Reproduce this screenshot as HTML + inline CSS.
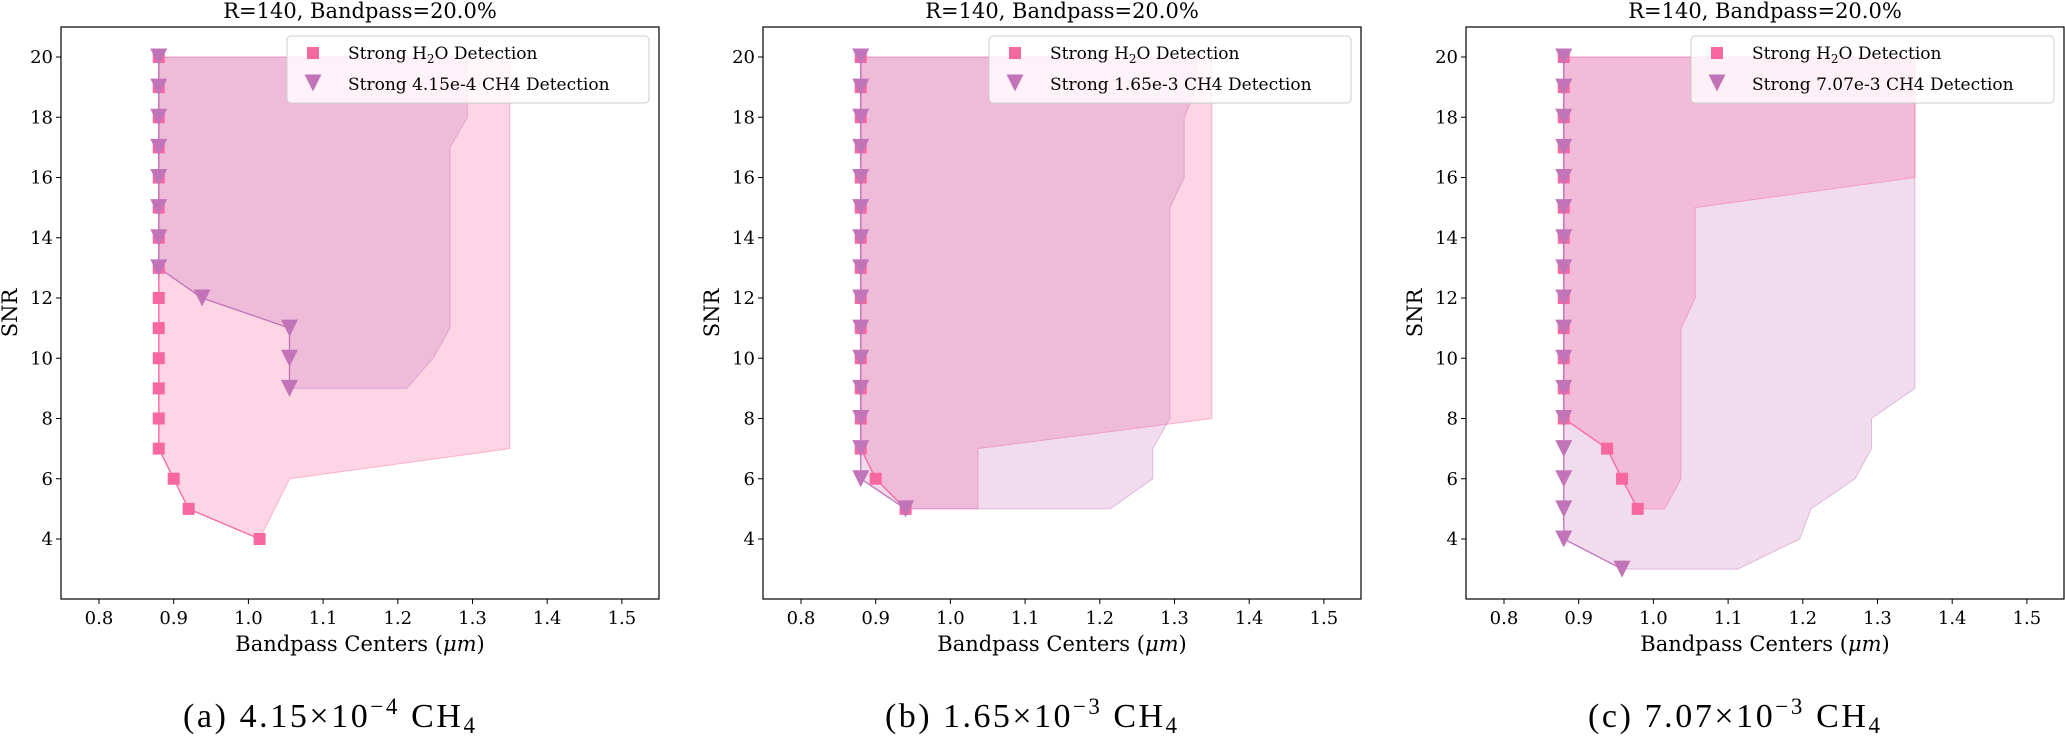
<!DOCTYPE html>
<html><head><meta charset="utf-8">
<style>
html,body{margin:0;padding:0;background:#fff;}
svg{display:block;}
.tk{font-family:"DejaVu Serif","Liberation Serif",serif;font-size:18px;fill:#000;}
.tt{font-family:"DejaVu Serif","Liberation Serif",serif;font-size:21px;fill:#000;}
.lg{font-family:"DejaVu Serif","Liberation Serif",serif;font-size:17px;fill:#000;}
.cap{font-family:"Liberation Serif","DejaVu Serif",serif;font-size:34px;fill:#000;}
</style></head>
<body>
<svg id="s" width="2065" height="738" viewBox="0 0 2065 738" xmlns="http://www.w3.org/2000/svg">
<rect width="2065" height="738" fill="#fff"/>

<!-- Panel 1 -->
<g transform="translate(61,0)">
<g id="d1"></g>
<rect x="0" y="27" width="598" height="572" fill="none" stroke="#000" stroke-width="1.2"/>
<g stroke="#000" stroke-width="1">
<path d="M38 599v5M112.7 599v5M187.4 599v5M262.1 599v5M336.8 599v5M411.5 599v5M486.2 599v5M560.9 599v5"/>
<path d="M0 57h-5M0 117.3h-5M0 177.5h-5M0 237.8h-5M0 298h-5M0 358.3h-5M0 418.5h-5M0 478.8h-5M0 539h-5"/>
</g>
<g class="tk" text-anchor="middle">
<text x="38" y="624">0.8</text><text x="112.7" y="624">0.9</text><text x="187.4" y="624">1.0</text><text x="262.1" y="624">1.1</text><text x="336.8" y="624">1.2</text><text x="411.5" y="624">1.3</text><text x="486.2" y="624">1.4</text><text x="560.9" y="624">1.5</text>
</g>
<g class="tk" text-anchor="end">
<text x="-8" y="63">20</text><text x="-8" y="123.3">18</text><text x="-8" y="183.5">16</text><text x="-8" y="243.8">14</text><text x="-8" y="304">12</text><text x="-8" y="364.3">10</text><text x="-8" y="424.5">8</text><text x="-8" y="484.8">6</text><text x="-8" y="545">4</text>
</g>
<text class="tt" x="299" y="18" text-anchor="middle">R=140, Bandpass=20.0%</text>
<text class="tt" x="299" y="651" text-anchor="middle">Bandpass Centers (<tspan font-style="italic">μm</tspan>)</text>
<text class="tt" transform="translate(-44,313) rotate(-90)" text-anchor="middle">SNR</text>
<rect x="226" y="36" width="362" height="67" rx="4" fill="#fff" fill-opacity="0.8" stroke="#ccc" stroke-width="1"/>
<rect x="246" y="47" width="12" height="12" fill="#f768a1"/>
<path d="M243.5 74.5h17l-8.5 17z" fill="#c274b8"/>
<text class="lg" x="287" y="59">Strong H<tspan font-size="12" dy="4">2</tspan><tspan dy="-4">O Detection</tspan></text>
<text class="lg" x="287" y="90">Strong 4.15e-4 CH4 Detection</text>
</g>

<!-- Panel 2 -->
<g transform="translate(763,0)">
<g id="d2"></g>
<rect x="0" y="27" width="598" height="572" fill="none" stroke="#000" stroke-width="1.2"/>
<g stroke="#000" stroke-width="1">
<path d="M38 599v5M112.7 599v5M187.4 599v5M262.1 599v5M336.8 599v5M411.5 599v5M486.2 599v5M560.9 599v5"/>
<path d="M0 57h-5M0 117.3h-5M0 177.5h-5M0 237.8h-5M0 298h-5M0 358.3h-5M0 418.5h-5M0 478.8h-5M0 539h-5"/>
</g>
<g class="tk" text-anchor="middle">
<text x="38" y="624">0.8</text><text x="112.7" y="624">0.9</text><text x="187.4" y="624">1.0</text><text x="262.1" y="624">1.1</text><text x="336.8" y="624">1.2</text><text x="411.5" y="624">1.3</text><text x="486.2" y="624">1.4</text><text x="560.9" y="624">1.5</text>
</g>
<g class="tk" text-anchor="end">
<text x="-8" y="63">20</text><text x="-8" y="123.3">18</text><text x="-8" y="183.5">16</text><text x="-8" y="243.8">14</text><text x="-8" y="304">12</text><text x="-8" y="364.3">10</text><text x="-8" y="424.5">8</text><text x="-8" y="484.8">6</text><text x="-8" y="545">4</text>
</g>
<text class="tt" x="299" y="18" text-anchor="middle">R=140, Bandpass=20.0%</text>
<text class="tt" x="299" y="651" text-anchor="middle">Bandpass Centers (<tspan font-style="italic">μm</tspan>)</text>
<text class="tt" transform="translate(-44,313) rotate(-90)" text-anchor="middle">SNR</text>
<rect x="226" y="36" width="362" height="67" rx="4" fill="#fff" fill-opacity="0.8" stroke="#ccc" stroke-width="1"/>
<rect x="246" y="47" width="12" height="12" fill="#f768a1"/>
<path d="M243.5 74.5h17l-8.5 17z" fill="#c274b8"/>
<text class="lg" x="287" y="59">Strong H<tspan font-size="12" dy="4">2</tspan><tspan dy="-4">O Detection</tspan></text>
<text class="lg" x="287" y="90">Strong 1.65e-3 CH4 Detection</text>
</g>

<!-- Panel 3 -->
<g transform="translate(1466,0)">
<g id="d3"></g>
<rect x="0" y="27" width="598" height="572" fill="none" stroke="#000" stroke-width="1.2"/>
<g stroke="#000" stroke-width="1">
<path d="M38 599v5M112.7 599v5M187.4 599v5M262.1 599v5M336.8 599v5M411.5 599v5M486.2 599v5M560.9 599v5"/>
<path d="M0 57h-5M0 117.3h-5M0 177.5h-5M0 237.8h-5M0 298h-5M0 358.3h-5M0 418.5h-5M0 478.8h-5M0 539h-5"/>
</g>
<g class="tk" text-anchor="middle">
<text x="38" y="624">0.8</text><text x="112.7" y="624">0.9</text><text x="187.4" y="624">1.0</text><text x="262.1" y="624">1.1</text><text x="336.8" y="624">1.2</text><text x="411.5" y="624">1.3</text><text x="486.2" y="624">1.4</text><text x="560.9" y="624">1.5</text>
</g>
<g class="tk" text-anchor="end">
<text x="-8" y="63">20</text><text x="-8" y="123.3">18</text><text x="-8" y="183.5">16</text><text x="-8" y="243.8">14</text><text x="-8" y="304">12</text><text x="-8" y="364.3">10</text><text x="-8" y="424.5">8</text><text x="-8" y="484.8">6</text><text x="-8" y="545">4</text>
</g>
<text class="tt" x="299" y="18" text-anchor="middle">R=140, Bandpass=20.0%</text>
<text class="tt" x="299" y="651" text-anchor="middle">Bandpass Centers (<tspan font-style="italic">μm</tspan>)</text>
<text class="tt" transform="translate(-44,313) rotate(-90)" text-anchor="middle">SNR</text>
<rect x="225" y="36" width="363" height="67" rx="4" fill="#fff" fill-opacity="0.8" stroke="#ccc" stroke-width="1"/>
<rect x="245" y="47" width="12" height="12" fill="#f768a1"/>
<path d="M242.5 74.5h17l-8.5 17z" fill="#c274b8"/>
<text class="lg" x="286" y="59">Strong H<tspan font-size="12" dy="4">2</tspan><tspan dy="-4">O Detection</tspan></text>
<text class="lg" x="286" y="90">Strong 7.07e-3 CH4 Detection</text>
</g>

<!-- Captions -->
<text class="cap" x="183" y="727" textLength="292" lengthAdjust="spacing">(a) 4.15×10<tspan font-size="23" dy="-13">−4</tspan><tspan dy="13"> CH</tspan><tspan font-size="23" dy="6">4</tspan></text>
<text class="cap" x="885" y="727" textLength="292" lengthAdjust="spacing">(b) 1.65×10<tspan font-size="23" dy="-13">−3</tspan><tspan dy="13"> CH</tspan><tspan font-size="23" dy="6">4</tspan></text>
<text class="cap" x="1588" y="727" textLength="292" lengthAdjust="spacing">(c) 7.07×10<tspan font-size="23" dy="-13">−3</tspan><tspan dy="13"> CH</tspan><tspan font-size="23" dy="6">4</tspan></text>
</svg>
<script>
(function(){
var NS="http://www.w3.org/2000/svg";
function X(v){return 38+(v-0.8)*747;}
function Y(v){return 57+(20-v)*30.125;}
function el(g,t,a){var e=document.createElementNS(NS,t);for(var k in a)e.setAttribute(k,a[k]);g.appendChild(e);return e;}
function pts(a){return a.map(function(p){return X(p[0]).toFixed(1)+","+Y(p[1]).toFixed(1);}).join(" ");}
function fill(g,a,c,op){el(g,"polygon",{points:pts(a),fill:c,"fill-opacity":op,stroke:c,"stroke-opacity":op*1.6,"stroke-width":1});}
function col(from,to){var r=[];for(var v=from;v>=to;v--)r.push([0.88,v]);return r;}
function series(g,h,c){
 el(g,"polyline",{points:pts(h),fill:"none",stroke:"#f768a1","stroke-width":1.3});
 el(g,"polyline",{points:pts(c),fill:"none",stroke:"#c274b8","stroke-width":1.3});
 h.forEach(function(p){el(g,"rect",{x:X(p[0])-6,y:Y(p[1])-6,width:12,height:12,fill:"#f768a1"});});
 c.forEach(function(p){var x=X(p[0]),y=Y(p[1]);el(g,"path",{d:"M"+(x-8.5)+" "+(y-8.5)+"h17l-8.5 17z",fill:"#c274b8"});});
}
var P="#f768a1",C="#c274b8";
var g=document.getElementById("d1");
var h1=col(20,7).concat([[0.90,6],[0.92,5],[1.015,4]]);
var c1=col(20,13).concat([[0.938,12],[1.055,11],[1.055,10],[1.055,9]]);
fill(g,h1.concat([[1.055,6],[1.35,7],[1.35,20]]),P,0.28);
fill(g,c1.concat([[1.212,9],[1.247,10],[1.27,11],[1.27,17],[1.293,18],[1.293,20]]),C,0.25);
series(g,h1,c1);
g=document.getElementById("d2");
var h2=col(20,7).concat([[0.90,6],[0.94,5]]);
var c2=col(20,6).concat([[0.94,5]]);
fill(g,h2.concat([[1.037,5],[1.037,7],[1.35,8],[1.35,20]]),P,0.28);
fill(g,c2.concat([[1.214,5],[1.271,6],[1.271,7],[1.294,8],[1.294,15],[1.313,16],[1.313,18],[1.33,19],[1.33,20]]),C,0.25);
series(g,h2,c2);
g=document.getElementById("d3");
var h3=col(20,8).concat([[0.938,7],[0.958,6],[0.979,5]]);
var c3=col(20,4).concat([[0.958,3]]);
fill(g,c3.concat([[1.113,3],[1.196,4],[1.211,5],[1.27,6],[1.292,7],[1.292,8],[1.35,9],[1.35,20]]),C,0.25);
fill(g,h3.concat([[1.015,5],[1.037,6],[1.037,11],[1.056,12],[1.056,15],[1.35,16],[1.35,20]]),P,0.28);
series(g,h3,c3);
})();
</script>
</body></html>
